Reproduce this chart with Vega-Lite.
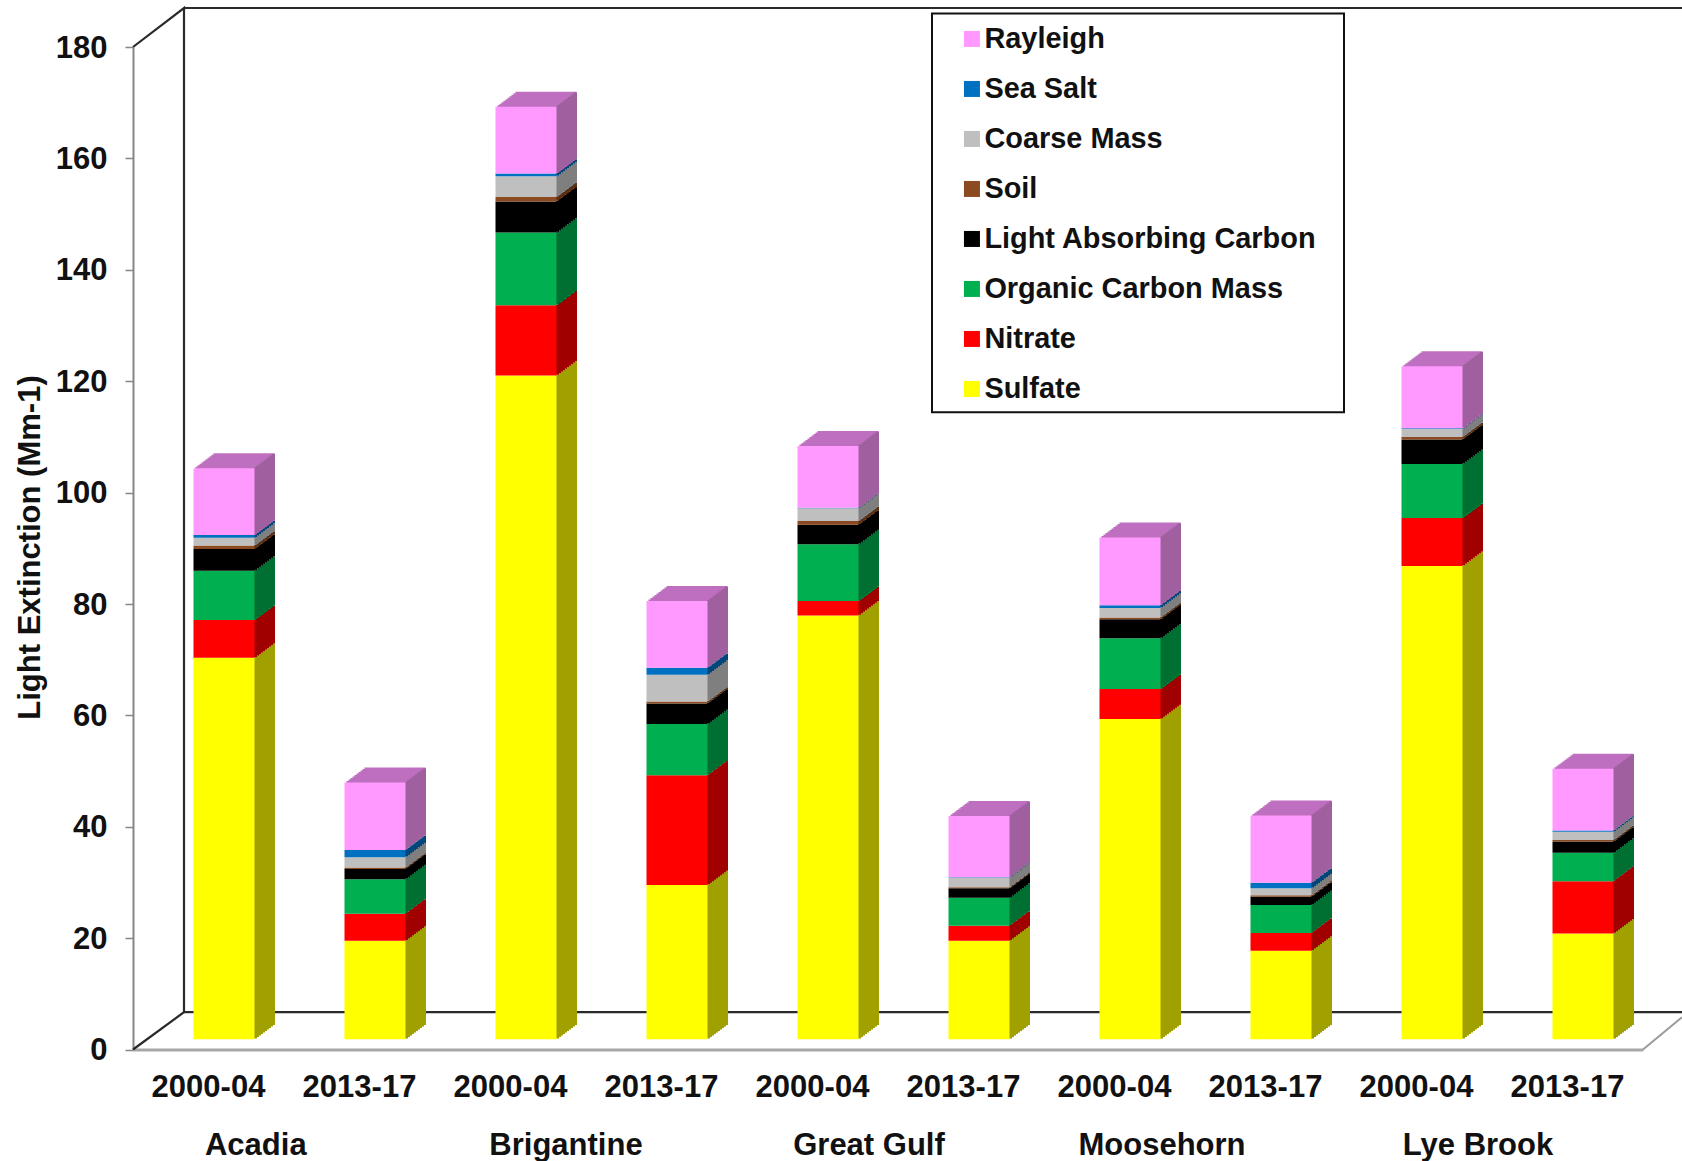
{
"$schema":"https://vega.github.io/schema/vega-lite/v6.json",
"autosize":{"type":"none"},
"padding":{"left":133,"top":47,"right":39,"bottom":111.5},
"width":1510,"height":1002.5,
"background":"white",
"config":{"view":{"stroke":null},"font":"Liberation Sans","text":{"font":"Liberation Sans"}},
"datasets":{
"segments":[
{"bar":"Acadia 2000-04","component":"Sulfate","rank":1,"value":68.5},{"bar":"Acadia 2000-04","component":"Nitrate","rank":2,"value":6.8},{"bar":"Acadia 2000-04","component":"Organic Carbon Mass","rank":3,"value":8.85},{"bar":"Acadia 2000-04","component":"Light Absorbing Carbon","rank":4,"value":3.9},{"bar":"Acadia 2000-04","component":"Soil","rank":5,"value":0.6},{"bar":"Acadia 2000-04","component":"Coarse Mass","rank":6,"value":1.4},{"bar":"Acadia 2000-04","component":"Sea Salt","rank":7,"value":0.5},{"bar":"Acadia 2000-04","component":"Rayleigh","rank":8,"value":12.0},
{"bar":"Acadia 2013-17","component":"Sulfate","rank":1,"value":17.7},{"bar":"Acadia 2013-17","component":"Nitrate","rank":2,"value":4.85},{"bar":"Acadia 2013-17","component":"Organic Carbon Mass","rank":3,"value":6.2},{"bar":"Acadia 2013-17","component":"Light Absorbing Carbon","rank":4,"value":1.85},{"bar":"Acadia 2013-17","component":"Soil","rank":5,"value":0.25},{"bar":"Acadia 2013-17","component":"Coarse Mass","rank":6,"value":1.85},{"bar":"Acadia 2013-17","component":"Sea Salt","rank":7,"value":1.3},{"bar":"Acadia 2013-17","component":"Rayleigh","rank":8,"value":12.1},
{"bar":"Brigantine 2000-04","component":"Sulfate","rank":1,"value":119.2},{"bar":"Brigantine 2000-04","component":"Nitrate","rank":2,"value":12.6},{"bar":"Brigantine 2000-04","component":"Organic Carbon Mass","rank":3,"value":13.05},{"bar":"Brigantine 2000-04","component":"Light Absorbing Carbon","rank":4,"value":5.6},{"bar":"Brigantine 2000-04","component":"Soil","rank":5,"value":0.8},{"bar":"Brigantine 2000-04","component":"Coarse Mass","rank":6,"value":3.7},{"bar":"Brigantine 2000-04","component":"Sea Salt","rank":7,"value":0.5},{"bar":"Brigantine 2000-04","component":"Rayleigh","rank":8,"value":12.0},
{"bar":"Brigantine 2013-17","component":"Sulfate","rank":1,"value":27.7},{"bar":"Brigantine 2013-17","component":"Nitrate","rank":2,"value":19.7},{"bar":"Brigantine 2013-17","component":"Organic Carbon Mass","rank":3,"value":9.2},{"bar":"Brigantine 2013-17","component":"Light Absorbing Carbon","rank":4,"value":3.7},{"bar":"Brigantine 2013-17","component":"Soil","rank":5,"value":0.35},{"bar":"Brigantine 2013-17","component":"Coarse Mass","rank":6,"value":4.8},{"bar":"Brigantine 2013-17","component":"Sea Salt","rank":7,"value":1.25},{"bar":"Brigantine 2013-17","component":"Rayleigh","rank":8,"value":12.0},
{"bar":"Great Gulf 2000-04","component":"Sulfate","rank":1,"value":76.1},{"bar":"Great Gulf 2000-04","component":"Nitrate","rank":2,"value":2.6},{"bar":"Great Gulf 2000-04","component":"Organic Carbon Mass","rank":3,"value":10.2},{"bar":"Great Gulf 2000-04","component":"Light Absorbing Carbon","rank":4,"value":3.5},{"bar":"Great Gulf 2000-04","component":"Soil","rank":5,"value":0.65},{"bar":"Great Gulf 2000-04","component":"Coarse Mass","rank":6,"value":2.3},{"bar":"Great Gulf 2000-04","component":"Sea Salt","rank":7,"value":0.1},{"bar":"Great Gulf 2000-04","component":"Rayleigh","rank":8,"value":11.1},
{"bar":"Great Gulf 2013-17","component":"Sulfate","rank":1,"value":17.7},{"bar":"Great Gulf 2013-17","component":"Nitrate","rank":2,"value":2.7},{"bar":"Great Gulf 2013-17","component":"Organic Carbon Mass","rank":3,"value":5.0},{"bar":"Great Gulf 2013-17","component":"Light Absorbing Carbon","rank":4,"value":1.7},{"bar":"Great Gulf 2013-17","component":"Soil","rank":5,"value":0.2},{"bar":"Great Gulf 2013-17","component":"Coarse Mass","rank":6,"value":1.7},{"bar":"Great Gulf 2013-17","component":"Sea Salt","rank":7,"value":0.1},{"bar":"Great Gulf 2013-17","component":"Rayleigh","rank":8,"value":11.0},
{"bar":"Moosehorn 2000-04","component":"Sulfate","rank":1,"value":57.5},{"bar":"Moosehorn 2000-04","component":"Nitrate","rank":2,"value":5.4},{"bar":"Moosehorn 2000-04","component":"Organic Carbon Mass","rank":3,"value":9.1},{"bar":"Moosehorn 2000-04","component":"Light Absorbing Carbon","rank":4,"value":3.4},{"bar":"Moosehorn 2000-04","component":"Soil","rank":5,"value":0.35},{"bar":"Moosehorn 2000-04","component":"Coarse Mass","rank":6,"value":1.7},{"bar":"Moosehorn 2000-04","component":"Sea Salt","rank":7,"value":0.5},{"bar":"Moosehorn 2000-04","component":"Rayleigh","rank":8,"value":12.15},
{"bar":"Moosehorn 2013-17","component":"Sulfate","rank":1,"value":15.9},{"bar":"Moosehorn 2013-17","component":"Nitrate","rank":2,"value":3.2},{"bar":"Moosehorn 2013-17","component":"Organic Carbon Mass","rank":3,"value":5.0},{"bar":"Moosehorn 2013-17","component":"Light Absorbing Carbon","rank":4,"value":1.5},{"bar":"Moosehorn 2013-17","component":"Soil","rank":5,"value":0.25},{"bar":"Moosehorn 2013-17","component":"Coarse Mass","rank":6,"value":1.25},{"bar":"Moosehorn 2013-17","component":"Sea Salt","rank":7,"value":1.0},{"bar":"Moosehorn 2013-17","component":"Rayleigh","rank":8,"value":12.1},
{"bar":"Lye Brook 2000-04","component":"Sulfate","rank":1,"value":85.0},{"bar":"Lye Brook 2000-04","component":"Nitrate","rank":2,"value":8.6},{"bar":"Lye Brook 2000-04","component":"Organic Carbon Mass","rank":3,"value":9.7},{"bar":"Lye Brook 2000-04","component":"Light Absorbing Carbon","rank":4,"value":4.4},{"bar":"Lye Brook 2000-04","component":"Soil","rank":5,"value":0.45},{"bar":"Lye Brook 2000-04","component":"Coarse Mass","rank":6,"value":1.45},{"bar":"Lye Brook 2000-04","component":"Sea Salt","rank":7,"value":0.1},{"bar":"Lye Brook 2000-04","component":"Rayleigh","rank":8,"value":11.15},
{"bar":"Lye Brook 2013-17","component":"Sulfate","rank":1,"value":19.0},{"bar":"Lye Brook 2013-17","component":"Nitrate","rank":2,"value":9.4},{"bar":"Lye Brook 2013-17","component":"Organic Carbon Mass","rank":3,"value":5.1},{"bar":"Lye Brook 2013-17","component":"Light Absorbing Carbon","rank":4,"value":2.0},{"bar":"Lye Brook 2013-17","component":"Soil","rank":5,"value":0.3},{"bar":"Lye Brook 2013-17","component":"Coarse Mass","rank":6,"value":1.45},{"bar":"Lye Brook 2013-17","component":"Sea Salt","rank":7,"value":0.25},{"bar":"Lye Brook 2013-17","component":"Rayleigh","rank":8,"value":11.1}
],
"wall":[
{"edge":"a","k":1,"u":0,"v":180},{"edge":"a","k":2,"u":51,"v":187},{"edge":"a","k":3,"u":51,"v":6.7},{"edge":"a","k":4,"u":0,"v":0},
{"edge":"b","k":1,"u":51,"v":187},{"edge":"b","k":2,"u":1549,"v":187},
{"edge":"c","k":1,"u":51,"v":6.7},{"edge":"c","k":2,"u":1549,"v":6.7}
],
"floor":[{"k":1,"u":1510,"v":0},{"k":2,"u":1549,"v":5.8}],
"box":[{"u":799,"u2":1211,"v":186.0,"v2":114.4}],
"sites":[{"site":"Acadia","u":122.8,"v":-17.3},{"site":"Brigantine","u":433,"v":-17.3},{"site":"Great Gulf","u":736,"v":-17.3},{"site":"Moosehorn","u":1029,"v":-17.3},{"site":"Lye Brook","u":1345,"v":-17.3}]
},
"resolve":{"scale":{"x":"independent","color":"independent"}},
"layer":[
{"data":{"name":"box"},"mark":{"type":"rect","fill":"white","stroke":"#111111","strokeWidth":2},
 "encoding":{"x":{"field":"u","type":"quantitative","scale":{"domain":[0,1510],"nice":false,"zero":false},"axis":null},"x2":{"field":"u2"},
 "y":{"field":"v","type":"quantitative","scale":{"domain":[0,180],"nice":false},
  "axis":{"title":"Light Extinction (Mm-1)","titleFont":"Liberation Sans","titleFontSize":31,"titleFontWeight":"bold","titleColor":"#111111","titleX":-87,"titleY":500,"values":[0,20,40,60,80,100,120,140,160,180],"grid":false,"labelFont":"Liberation Sans","labelFontSize":31,"labelFontWeight":"bold","labelColor":"#111111","labelPadding":18,"labelOffset":1.2,"tickSize":8,"tickColor":"#868686","tickWidth":1.5,"domainColor":"#868686","domainWidth":2}},
 "y2":{"field":"v2"}}},
{"data":{"name":"wall"},"mark":{"type":"line","color":"#2a2a2a","strokeWidth":2.2},
 "encoding":{"x":{"field":"u","type":"quantitative","scale":{"domain":[0,1510],"nice":false,"zero":false},"axis":null},"y":{"field":"v","type":"quantitative","scale":{"domain":[0,180],"nice":false}},"detail":{"field":"edge"},"order":{"field":"k"}}},
{"data":{"name":"floor"},"mark":{"type":"line","color":"#9a9a9a","strokeWidth":2},
 "encoding":{"x":{"field":"u","type":"quantitative","scale":{"domain":[0,1510],"nice":false,"zero":false},"axis":null},"y":{"field":"v","type":"quantitative","scale":{"domain":[0,180],"nice":false}},"order":{"field":"k"}}},
{"data":{"name":"sites"},"mark":{"type":"text","font":"Liberation Sans","fontSize":31,"fontWeight":"bold","color":"#111111","baseline":"middle","align":"center"},
 "encoding":{"x":{"field":"u","type":"quantitative","scale":{"domain":[0,1510],"nice":false,"zero":false},"axis":null},"y":{"field":"v","type":"quantitative","scale":{"domain":[0,180],"nice":false}},"text":{"field":"site"}}},
{"data":{"name":"segments"},
 "transform":[{"stack":"value","groupby":["bar"],"sort":[{"field":"rank","order":"ascending"}],"as":["y0","y1"]}],
 "encoding":{
  "x":{"field":"bar","type":"nominal","sort":null,"scale":{"paddingInner":0,"paddingOuter":0},
   "axis":{"title":null,"labelExpr":"slice(datum.label,-7)","labelAngle":0,"labelFont":"Liberation Sans","labelFontSize":31,"labelFontWeight":"bold","labelColor":"#111111","labelPadding":23,"ticks":false,"domainColor":"#A8A8A8","domainWidth":3}},
  "y":{"field":"y1","type":"quantitative","scale":{"domain":[0,180],"nice":false}},
  "y2":{"field":"y0"}},
 "resolve":{"scale":{"color":"independent"}},
 "layer":[
  {"transform":[{"filter":"datum.component === 'Rayleigh'"}],
   "layer":[
   {"mark":{"type":"bar","color":"#BE6FBF","width":61,"xOffset":35.5,"yOffset":-25.2,"y2Offset":-25.2}},
   {"mark":{"type":"bar","color":"#BE6FBF","width":61,"xOffset":33.5,"yOffset":-23.7,"y2Offset":-23.7}},
   {"mark":{"type":"bar","color":"#BE6FBF","width":61,"xOffset":31.5,"yOffset":-22.2,"y2Offset":-22.2}},
   {"mark":{"type":"bar","color":"#BE6FBF","width":61,"xOffset":29.5,"yOffset":-20.7,"y2Offset":-20.7}},
   {"mark":{"type":"bar","color":"#BE6FBF","width":61,"xOffset":27.5,"yOffset":-19.2,"y2Offset":-19.2}},
   {"mark":{"type":"bar","color":"#BE6FBF","width":61,"xOffset":25.5,"yOffset":-17.7,"y2Offset":-17.7}},
   {"mark":{"type":"bar","color":"#BE6FBF","width":61,"xOffset":23.5,"yOffset":-16.2,"y2Offset":-16.2}},
   {"mark":{"type":"bar","color":"#BE6FBF","width":61,"xOffset":21.5,"yOffset":-14.7,"y2Offset":-14.7}},
   {"mark":{"type":"bar","color":"#BE6FBF","width":61,"xOffset":19.5,"yOffset":-13.2,"y2Offset":-13.2}},
   {"mark":{"type":"bar","color":"#BE6FBF","width":61,"xOffset":17.5,"yOffset":-11.7,"y2Offset":-11.7}}
  ]},
  {"encoding":{"color":{"field":"component","type":"nominal","legend":null,"scale":{"domain":["Rayleigh","Sea Salt","Coarse Mass","Soil","Light Absorbing Carbon","Organic Carbon Mass","Nitrate","Sulfate"],"range":["#A0609F","#00467A","#7F7F7F","#5A2E12","#000000","#006F32","#A00000","#A0A000"]}}},
   "layer":[
   {"mark":{"type":"bar","width":3,"xOffset":65,"yOffset":-24.45,"y2Offset":-24.45}},
   {"mark":{"type":"bar","width":3,"xOffset":63,"yOffset":-22.95,"y2Offset":-22.95}},
   {"mark":{"type":"bar","width":3,"xOffset":61,"yOffset":-21.45,"y2Offset":-21.45}},
   {"mark":{"type":"bar","width":3,"xOffset":59,"yOffset":-19.95,"y2Offset":-19.95}},
   {"mark":{"type":"bar","width":3,"xOffset":57,"yOffset":-18.45,"y2Offset":-18.45}},
   {"mark":{"type":"bar","width":3,"xOffset":55,"yOffset":-16.95,"y2Offset":-16.95}},
   {"mark":{"type":"bar","width":3,"xOffset":53,"yOffset":-15.45,"y2Offset":-15.45}},
   {"mark":{"type":"bar","width":3,"xOffset":51,"yOffset":-13.95,"y2Offset":-13.95}},
   {"mark":{"type":"bar","width":3,"xOffset":49,"yOffset":-12.45,"y2Offset":-12.45}},
   {"mark":{"type":"bar","width":3,"xOffset":47,"yOffset":-10.95,"y2Offset":-10.95}}
  ]},
  {"mark":{"type":"bar","width":61,"xOffset":15.5,"yOffset":-10.2,"y2Offset":-10.2},
   "encoding":{
    "color":{"field":"component","type":"nominal","scale":{"domain":["Rayleigh","Sea Salt","Coarse Mass","Soil","Light Absorbing Carbon","Organic Carbon Mass","Nitrate","Sulfate"],"range":["#FF99FF","#0070C0","#BFBFBF","#8B4A20","#000000","#00B050","#FF0000","#FFFF00"]},
     "legend":{"title":null,"orient":"none","legendX":824.5,"legendY":-22.5,"padding":0,"symbolType":"square","symbolSize":256,"symbolStrokeWidth":0,"labelFont":"Liberation Sans","labelFontSize":28.9,"labelFontWeight":"bold","labelColor":"#111111","labelOffset":-2,"labelLimit":500,"rowPadding":20}}}}
 ]}
]
}
